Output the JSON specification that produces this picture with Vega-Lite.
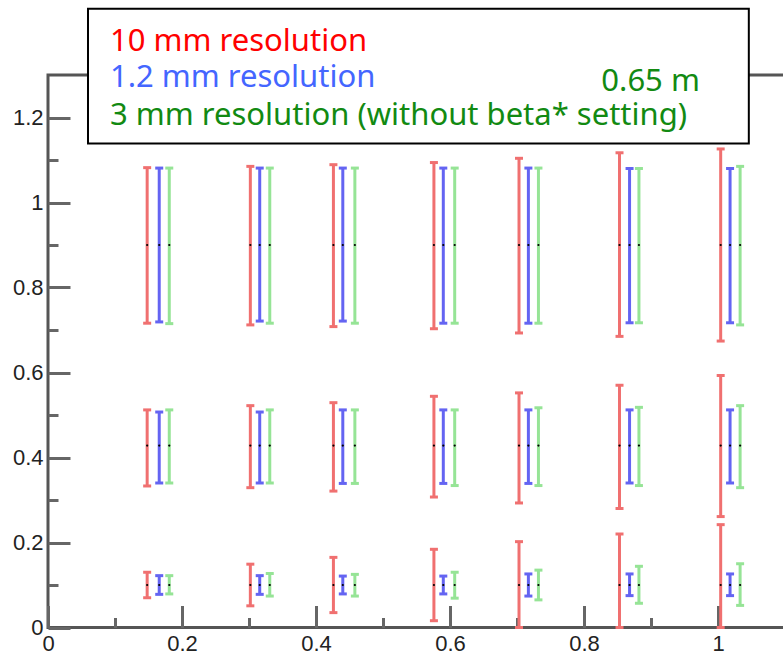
{
  "$schema": "https://vega.github.io/schema/vega-lite/v6.json",
  "width": 737,
  "height": 552.5,
  "autosize": {"type": "none"},
  "padding": {"left": 48, "top": 75, "right": 0, "bottom": 30},
  "background": "white",
  "config": {
    "view": {"stroke": "#555555", "strokeWidth": 3},
    "axis": {
      "labelFont": "Liberation Sans",
      "labelFontSize": 22,
      "labelColor": "#222222",
      "labelFlush": false,
      "ticks": false,
      "domain": false,
      "grid": true,
      "gridColor": "#666666",
      "gridWidth": 3,
      "gridOpacity": 1,
      "title": null
    }
  },
  "datasets": {
    "bars": [
      {"s": "10 mm", "x": 0.148, "c": 0.9, "lo": 0.716, "hi": 1.082},
      {"s": "1.2 mm", "x": 0.166, "c": 0.9, "lo": 0.719, "hi": 1.081},
      {"s": "3 mm", "x": 0.181, "c": 0.9, "lo": 0.715, "hi": 1.081},
      {"s": "10 mm", "x": 0.302, "c": 0.9, "lo": 0.712, "hi": 1.085},
      {"s": "1.2 mm", "x": 0.316, "c": 0.9, "lo": 0.721, "hi": 1.081},
      {"s": "3 mm", "x": 0.331, "c": 0.9, "lo": 0.716, "hi": 1.081},
      {"s": "10 mm", "x": 0.426, "c": 0.9, "lo": 0.708, "hi": 1.089},
      {"s": "1.2 mm", "x": 0.440, "c": 0.9, "lo": 0.721, "hi": 1.081},
      {"s": "3 mm", "x": 0.458, "c": 0.9, "lo": 0.716, "hi": 1.081},
      {"s": "10 mm", "x": 0.576, "c": 0.9, "lo": 0.703, "hi": 1.094},
      {"s": "1.2 mm", "x": 0.590, "c": 0.9, "lo": 0.716, "hi": 1.081},
      {"s": "3 mm", "x": 0.607, "c": 0.9, "lo": 0.716, "hi": 1.081},
      {"s": "10 mm", "x": 0.703, "c": 0.9, "lo": 0.693, "hi": 1.104},
      {"s": "1.2 mm", "x": 0.717, "c": 0.9, "lo": 0.716, "hi": 1.081},
      {"s": "3 mm", "x": 0.732, "c": 0.9, "lo": 0.716, "hi": 1.081},
      {"s": "10 mm", "x": 0.853, "c": 0.9, "lo": 0.685, "hi": 1.117},
      {"s": "1.2 mm", "x": 0.868, "c": 0.9, "lo": 0.717, "hi": 1.080},
      {"s": "3 mm", "x": 0.882, "c": 0.9, "lo": 0.717, "hi": 1.080},
      {"s": "10 mm", "x": 1.004, "c": 0.9, "lo": 0.674, "hi": 1.126},
      {"s": "1.2 mm", "x": 1.018, "c": 0.9, "lo": 0.717, "hi": 1.080},
      {"s": "3 mm", "x": 1.033, "c": 0.9, "lo": 0.712, "hi": 1.085},

      {"s": "10 mm", "x": 0.148, "c": 0.428, "lo": 0.333, "hi": 0.512},
      {"s": "1.2 mm", "x": 0.166, "c": 0.428, "lo": 0.340, "hi": 0.507},
      {"s": "3 mm", "x": 0.181, "c": 0.428, "lo": 0.340, "hi": 0.512},
      {"s": "10 mm", "x": 0.302, "c": 0.428, "lo": 0.329, "hi": 0.522},
      {"s": "1.2 mm", "x": 0.316, "c": 0.428, "lo": 0.340, "hi": 0.507},
      {"s": "3 mm", "x": 0.331, "c": 0.428, "lo": 0.340, "hi": 0.512},
      {"s": "10 mm", "x": 0.426, "c": 0.428, "lo": 0.321, "hi": 0.529},
      {"s": "1.2 mm", "x": 0.440, "c": 0.428, "lo": 0.339, "hi": 0.512},
      {"s": "3 mm", "x": 0.458, "c": 0.428, "lo": 0.339, "hi": 0.512},
      {"s": "10 mm", "x": 0.576, "c": 0.428, "lo": 0.307, "hi": 0.544},
      {"s": "1.2 mm", "x": 0.590, "c": 0.428, "lo": 0.339, "hi": 0.512},
      {"s": "3 mm", "x": 0.607, "c": 0.428, "lo": 0.334, "hi": 0.512},
      {"s": "10 mm", "x": 0.703, "c": 0.428, "lo": 0.293, "hi": 0.552},
      {"s": "1.2 mm", "x": 0.717, "c": 0.428, "lo": 0.339, "hi": 0.512},
      {"s": "3 mm", "x": 0.732, "c": 0.428, "lo": 0.334, "hi": 0.517},
      {"s": "10 mm", "x": 0.853, "c": 0.428, "lo": 0.280, "hi": 0.570},
      {"s": "1.2 mm", "x": 0.868, "c": 0.428, "lo": 0.340, "hi": 0.512},
      {"s": "3 mm", "x": 0.882, "c": 0.428, "lo": 0.334, "hi": 0.518},
      {"s": "10 mm", "x": 1.004, "c": 0.428, "lo": 0.261, "hi": 0.593},
      {"s": "1.2 mm", "x": 1.018, "c": 0.428, "lo": 0.340, "hi": 0.512},
      {"s": "3 mm", "x": 1.033, "c": 0.428, "lo": 0.329, "hi": 0.522},

      {"s": "10 mm", "x": 0.148, "c": 0.1, "lo": 0.070, "hi": 0.130},
      {"s": "1.2 mm", "x": 0.166, "c": 0.1, "lo": 0.078, "hi": 0.122},
      {"s": "3 mm", "x": 0.181, "c": 0.1, "lo": 0.079, "hi": 0.122},
      {"s": "10 mm", "x": 0.302, "c": 0.1, "lo": 0.051, "hi": 0.149},
      {"s": "1.2 mm", "x": 0.316, "c": 0.1, "lo": 0.078, "hi": 0.122},
      {"s": "3 mm", "x": 0.331, "c": 0.1, "lo": 0.074, "hi": 0.127},
      {"s": "10 mm", "x": 0.426, "c": 0.1, "lo": 0.035, "hi": 0.165},
      {"s": "1.2 mm", "x": 0.440, "c": 0.1, "lo": 0.079, "hi": 0.121},
      {"s": "3 mm", "x": 0.458, "c": 0.1, "lo": 0.074, "hi": 0.125},
      {"s": "10 mm", "x": 0.576, "c": 0.1, "lo": 0.016, "hi": 0.184},
      {"s": "1.2 mm", "x": 0.590, "c": 0.1, "lo": 0.079, "hi": 0.121},
      {"s": "3 mm", "x": 0.607, "c": 0.1, "lo": 0.069, "hi": 0.130},
      {"s": "10 mm", "x": 0.703, "c": 0.1, "lo": 0.0, "hi": 0.202},
      {"s": "1.2 mm", "x": 0.717, "c": 0.1, "lo": 0.074, "hi": 0.126},
      {"s": "3 mm", "x": 0.732, "c": 0.1, "lo": 0.065, "hi": 0.135},
      {"s": "10 mm", "x": 0.853, "c": 0.1, "lo": 0.0, "hi": 0.220},
      {"s": "1.2 mm", "x": 0.868, "c": 0.1, "lo": 0.075, "hi": 0.126},
      {"s": "3 mm", "x": 0.882, "c": 0.1, "lo": 0.057, "hi": 0.144},
      {"s": "10 mm", "x": 1.004, "c": 0.1, "lo": 0.0, "hi": 0.242},
      {"s": "1.2 mm", "x": 1.018, "c": 0.1, "lo": 0.075, "hi": 0.126},
      {"s": "3 mm", "x": 1.033, "c": 0.1, "lo": 0.052, "hi": 0.150}
    ]
  },
  "layer": [
    {
      "data": {"name": "bars"},
      "mark": {"type": "rule", "strokeWidth": 3},
      "encoding": {
        "x": {
          "field": "x", "type": "quantitative",
          "scale": {"domain": [0, 1.1], "nice": false, "zero": false},
          "axis": {
            "values": [0, 0.05, 0.1, 0.15, 0.2, 0.25, 0.3, 0.35, 0.4, 0.45, 0.5, 0.55, 0.6, 0.65, 0.7, 0.75, 0.8, 0.85, 0.9, 0.95, 1.0, 1.05],
            "labelExpr": "abs(datum.value*5 - round(datum.value*5)) < 0.001 ? toString(round(datum.value*10)/10) : ''",
            "labelPadding": 6,
            "gridDash": {"condition": {"test": "abs(datum.value*5 - round(datum.value*5)) < 0.001", "value": [0, 530.5, 22, 3000]}, "value": [0, 542.5, 10, 3000]}
          }
        },
        "y": {
          "field": "lo", "type": "quantitative",
          "scale": {"domain": [0, 1.3], "nice": false},
          "axis": {
            "values": [0, 0.05, 0.1, 0.15, 0.2, 0.25, 0.3, 0.35, 0.4, 0.45, 0.5, 0.55, 0.6, 0.65, 0.7, 0.75, 0.8, 0.85, 0.9, 0.95, 1.0, 1.05, 1.1, 1.15, 1.2, 1.25],
            "labelExpr": "abs(datum.value*5 - round(datum.value*5)) < 0.001 ? toString(round(datum.value*10)/10) : ''",
            "labelPadding": 5,
            "gridDash": {"condition": {"test": "abs(datum.value*5 - round(datum.value*5)) < 0.001", "value": [22, 3000]}, "value": [10, 3000]}
          }
        },
        "y2": {"field": "hi"},
        "color": {
          "field": "s", "type": "nominal",
          "scale": {"domain": ["10 mm", "1.2 mm", "3 mm"], "range": ["#f07070", "#6464f2", "#96e496"]},
          "legend": null
        }
      }
    },
    {
      "data": {"name": "bars"},
      "mark": {"type": "tick", "orient": "horizontal", "size": 8, "thickness": 3, "opacity": 1},
      "encoding": {
        "x": {"field": "x", "type": "quantitative"},
        "y": {"field": "lo", "type": "quantitative"},
        "color": {"field": "s", "type": "nominal", "legend": null}
      }
    },
    {
      "data": {"name": "bars"},
      "mark": {"type": "tick", "orient": "horizontal", "size": 8, "thickness": 3, "opacity": 1},
      "encoding": {
        "x": {"field": "x", "type": "quantitative"},
        "y": {"field": "hi", "type": "quantitative"},
        "color": {"field": "s", "type": "nominal", "legend": null}
      }
    },
    {
      "data": {"name": "bars"},
      "mark": {"type": "point", "filled": true, "size": 5, "color": "black", "opacity": 1},
      "encoding": {
        "x": {"field": "x", "type": "quantitative"},
        "y": {"field": "c", "type": "quantitative"}
      }
    },
    {
      "data": {"values": [{}]},
      "mark": {"type": "rect", "fill": "white", "stroke": "black", "strokeWidth": 2, "clip": false},
      "encoding": {
        "x": {"datum": 0.0597},
        "x2": {"datum": 1.046},
        "y": {"datum": 1.456},
        "y2": {"datum": 1.139}
      }
    },
    {
      "data": {"values": [{}]},
      "mark": {"type": "text", "align": "left", "baseline": "alphabetic", "font": "Noto Sans", "fontSize": 31, "color": "#ff0000"},
      "encoding": {"x": {"datum": 0.0925}, "y": {"datum": 1.3576}, "text": {"value": "10 mm resolution"}}
    },
    {
      "data": {"values": [{}]},
      "mark": {"type": "text", "align": "left", "baseline": "alphabetic", "font": "Noto Sans", "fontSize": 31, "color": "#4466ff"},
      "encoding": {"x": {"datum": 0.0925}, "y": {"datum": 1.2706}, "text": {"value": "1.2 mm resolution"}}
    },
    {
      "data": {"values": [{}]},
      "mark": {"type": "text", "align": "left", "baseline": "alphabetic", "font": "Noto Sans", "fontSize": 31, "color": "#128a12"},
      "encoding": {"x": {"datum": 0.0925}, "y": {"datum": 1.1835}, "text": {"value": "3 mm resolution (without beta* setting)"}}
    },
    {
      "data": {"values": [{}]},
      "mark": {"type": "text", "align": "right", "baseline": "alphabetic", "font": "Noto Sans", "fontSize": 31, "color": "#128a12"},
      "encoding": {"x": {"datum": 0.973}, "y": {"datum": 1.2635}, "text": {"value": "0.65 m"}}
    }
  ]
}
